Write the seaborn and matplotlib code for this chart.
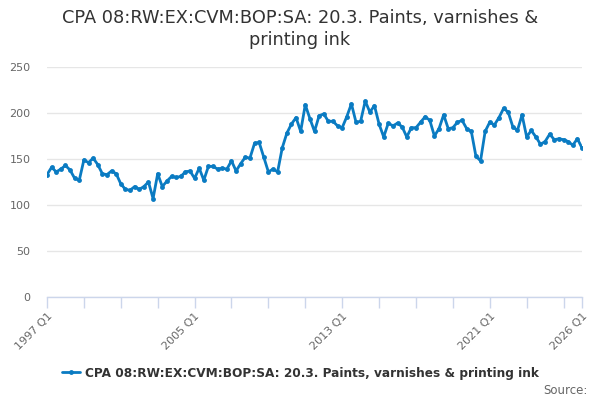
import matplotlib
matplotlib.use("Agg")
import matplotlib.pyplot as plt
import seaborn as sns
import pandas as pd
import numpy as np

series_name = "CPA 08:RW:EX:CVM:BOP:SA: 20.3. Paints, varnishes & printing ink"
title = "CPA 08:RW:EX:CVM:BOP:SA: 20.3. Paints, varnishes &\nprinting ink"

quarters = [f"{y} Q{q}" for y in range(1997, 2026) for q in range(1, 5)] + ["2026 Q1"]

values = [
    133, 141, 136, 139, 143, 138, 129, 127, 149, 146, 151, 144, 134, 133, 137, 134,
    123, 117, 116, 120, 117, 120, 125, 107, 134, 120, 126, 131, 130, 131, 136, 137,
    129, 140, 127, 142, 142, 139, 140, 139, 148, 137, 145, 152, 151, 167, 168, 152,
    136, 139, 136, 162, 178, 188, 195, 180, 209, 194, 180, 197, 199, 191, 191, 186,
    184, 196, 210, 190, 191, 213, 201, 208, 188, 174, 189, 186, 189, 185, 174, 184,
    184, 190, 196, 192, 175, 183, 198, 183, 184, 190, 192, 183, 180, 153, 148, 180,
    190, 187, 195, 205, 201, 185, 181, 198, 174, 181, 174, 166, 169, 177, 171, 172,
    171, 169, 165, 172, 162,
]

tick_labels = ["1997 Q1", "2005 Q1", "2013 Q1", "2021 Q1", "2026 Q1"]
y_ticks = [0, 50, 100, 150, 200, 250]

df = pd.DataFrame({"idx": np.arange(len(values)), "value": values, "period": quarters})

sns.set_theme(style="white")
plt.rcParams["font.family"] = ["DejaVu Sans"]

fig = plt.figure(figsize=(6, 4), dpi=100)
ax = fig.add_axes([47 / 600, 1 - 297 / 400, 535 / 600, 230 / 400])

color = "#0a7bc2"
sns.lineplot(data=df, x="idx", y="value", ax=ax, color=color, linewidth=2,
             marker="o", markersize=3.5, markeredgewidth=0, label=series_name)

ax.set_xlim(0, len(values) - 1)
ax.set_ylim(0, 250)
ax.set_yticks(y_ticks)
ax.set_yticklabels([str(v) for v in y_ticks])
ax.yaxis.grid(True, color="#e6e6e6", linewidth=1)
ax.set_axisbelow(True)
for s in ["top", "right", "left"]:
    ax.spines[s].set_visible(False)
ax.spines["bottom"].set_color("#ccd6eb")
ax.spines["bottom"].set_linewidth(1)
ax.tick_params(axis="y", length=0, pad=12, labelsize=8, labelcolor="#666666")

label_pos = [quarters.index(l) for l in tick_labels]
minor_pos = [p for p in range(0, len(values) - 1, 8) if p not in label_pos]
ax.set_xticks(label_pos)
ax.set_xticklabels(tick_labels, rotation=45, ha="right", rotation_mode="anchor")
ax.set_xticks(minor_pos, minor=True)
ax.tick_params(axis="x", which="both", direction="out", length=8, width=1,
               color="#ccd6eb", bottom=True, labelsize=8, labelcolor="#666666", pad=2)
ax.set_xlabel("")
ax.set_ylabel("")

leg = ax.legend(loc="center", bbox_to_anchor=(300 / 600, 1 - 373 / 400),
                bbox_transform=fig.transFigure, frameon=False, fontsize=8.75,
                handlelength=1.5, handletextpad=0.4, borderaxespad=0, borderpad=0)
for t in leg.get_texts():
    t.set_fontweight("bold")
    t.set_color("#333333")

fig.text(300 / 600, 1 - 29 / 400, title, ha="center", va="center",
         fontsize=12.8, color="#333333", linespacing=1.25)
fig.text(588 / 600, 1 - 390 / 400, "Source:", ha="right", va="center",
         fontsize=8.5, color="#666666")

fig.savefig("out.png", dpi=100)
